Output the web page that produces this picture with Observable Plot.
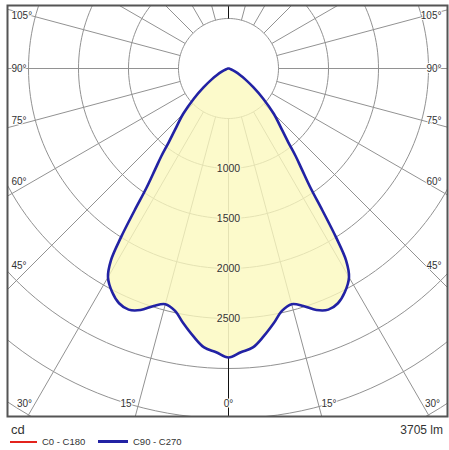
<!DOCTYPE html>
<html><head><meta charset="utf-8">
<script src="https://cdn.jsdelivr.net/npm/d3@7"></script>
<script src="https://cdn.jsdelivr.net/npm/@observablehq/plot@0.6"></script>
<style>
body{margin:0;background:#fff;font-family:"Liberation Sans",Arial,sans-serif;}
#wrap{position:relative;width:449px;height:450px;overflow:hidden;}
#chart{position:absolute;left:0;top:0;}
.t{position:absolute;color:#333;white-space:nowrap;}
.sw{position:absolute;}
</style></head><body>
<div id="wrap"><div id="chart"></div>
<div class="t" id="unit" style="left:11px;top:422px;font-size:13px;"></div>
<div class="t" id="flux" style="right:6px;top:423px;font-size:12px;"></div>
<div class="sw" style="left:10px;top:441px;width:27px;height:2px;background:#e3231c;"></div>
<div class="t" id="lg0" style="left:42px;top:436px;font-size:9.5px;"></div>
<div class="sw" style="left:98px;top:440px;width:30px;height:2.5px;background:#2222a4;"></div>
<div class="t" id="lg1" style="left:133px;top:436px;font-size:9.5px;"></div>
</div>
<script>
// C90 - C270 plane (symmetric), gamma in degrees from nadir, intensity in cd
const gammaDeg = [0,2.5,5,7.5,10,12.5,15,17.5,20,22.5,25,27.5,30,31.5,32.5,33.5,34.5,36,37.5,39,41,45,49,53,57,60,65,70,80,90];
const c90c270 = [2890,2840,2800,2700,2590,2480,2440,2490,2570,2610,2590,2520,2410,2250,2000,1700,1450,1250,1100,950,820,640,460,310,200,140,70,30,5,0];
const ringValues = [500,1000,1500,2000,2500,3000,3500,4000,4500];
const ringLabels = [1000,1500,2000,2500];
const spokeAngles = [0,15,30,45,60,75,90,105,120,135,150,165,180,195,210,225,240,255,270,285,300,315,330,345];
const sideLabels = [45,60,75,90,105];
const bottomLabels = [0,15,30];
const unitLabel = "cd";
const fluxLabel = "3705 lm";
const legendNames = ["C0 - C180","C90 - C270"];

document.getElementById("unit").textContent = unitLabel;
document.getElementById("flux").textContent = fluxLabel;
document.getElementById("lg0").textContent = legendNames[0];
document.getElementById("lg1").textContent = legendNames[1];

const rad = d => d * Math.PI / 180;
const xDom = [-2210, 2190], yDom = [-3480, 630];

// curve points, left side then right side
const curve = [];
for (let i = gammaDeg.length - 1; i >= 0; i--) curve.push({x: -c90c270[i]*Math.sin(rad(gammaDeg[i])), y: -c90c270[i]*Math.cos(rad(gammaDeg[i]))});
for (let i = 1; i < gammaDeg.length; i++) curve.push({x: c90c270[i]*Math.sin(rad(gammaDeg[i])), y: -c90c270[i]*Math.cos(rad(gammaDeg[i]))});

const ringPts = [];
for (const r of ringValues) for (let a = 0; a <= 360; a += 2) ringPts.push({r, x: r*Math.sin(rad(a)), y: -r*Math.cos(rad(a))});

const inner = ringValues[0], outer = 6000;
const spokes = spokeAngles.map(a => ({a, x1: inner*Math.sin(rad(a)), y1: -inner*Math.cos(rad(a)), x2: outer*Math.sin(rad(a)), y2: -outer*Math.cos(rad(a))}));
const darkSpokes = [
  {r1: c90c270[0], a: 0},
  {r1: inner, a: 180}
].map(d => ({x1: d.r1*Math.sin(rad(d.a)), y1: -d.r1*Math.cos(rad(d.a)), x2: outer*Math.sin(rad(d.a)), y2: -outer*Math.cos(rad(d.a))}));

// angle labels
const sideLab = [];
for (const a of sideLabels) {
  const yy = -1970 * Math.cos(rad(a)) / Math.sin(rad(a));
  sideLab.push({t: a + "°", x: xDom[0] + 40, y: yy, anchor: "start"});
  sideLab.push({t: a + "°", x: xDom[1] - 60, y: yy, anchor: "end"});
}
const botLab = [];
for (const a of bottomLabels) {
  const xx = Math.min(3750 * Math.tan(rad(a)), 2040);
  botLab.push({t: a + "°", x: -xx, y: yDom[0] + 130});
  if (a > 0) botLab.push({t: a + "°", x: xx, y: yDom[0] + 130});
}

const fillCol = "#fbf8bc";
const gridCol = "#929292";
const chart = Plot.plot({
  width: 449, height: 420,
  marginTop: 5, marginBottom: 4, marginLeft: 7, marginRight: 2,
  x: {domain: xDom, axis: null},
  y: {domain: yDom, axis: null},
  style: {fontFamily: "Liberation Sans, Arial, sans-serif", background: "#fff"},
  marks: [
    Plot.line(ringPts, {x: "x", y: "y", z: "r", stroke: gridCol, strokeWidth: 1, clip: true}),
    Plot.link(spokes, {x1: "x1", y1: "y1", x2: "x2", y2: "y2", stroke: gridCol, strokeWidth: 1, clip: true}),
    Plot.area(curve, {x1: "x", y1: "y", x2: d => 0, y2: d => 0, fill: fillCol, fillOpacity: 0.78, curve: "catmull-rom", clip: true}),
    Plot.link(darkSpokes, {x1: "x1", y1: "y1", x2: "x2", y2: "y2", stroke: "#111", strokeWidth: 1, clip: true}),
    Plot.text(ringLabels, {x: d => 0, y: d => -d, text: d => String(d), fontSize: 10.5, fill: "#333", stroke: "#fcf9cf", strokeWidth: 3}),
    Plot.line(curve, {x: "x", y: "y", stroke: "#2222a4", strokeWidth: 2.6, curve: "catmull-rom", clip: true}),
    Plot.text(sideLab.filter(d => d.anchor === "start"), {x: "x", y: "y", text: "t", textAnchor: "start", fontSize: 10, fill: "#333", stroke: "#fff", strokeWidth: 2}),
    Plot.text(sideLab.filter(d => d.anchor === "end"), {x: "x", y: "y", text: "t", textAnchor: "end", fontSize: 10, fill: "#333", stroke: "#fff", strokeWidth: 2}),
    Plot.text(botLab, {x: "x", y: "y", text: "t", fontSize: 10, fill: "#333", stroke: "#fff", strokeWidth: 2}),
    Plot.frame({stroke: "#555", strokeWidth: 2})
  ]
});
document.getElementById("chart").appendChild(chart);
</script>
</body></html>
